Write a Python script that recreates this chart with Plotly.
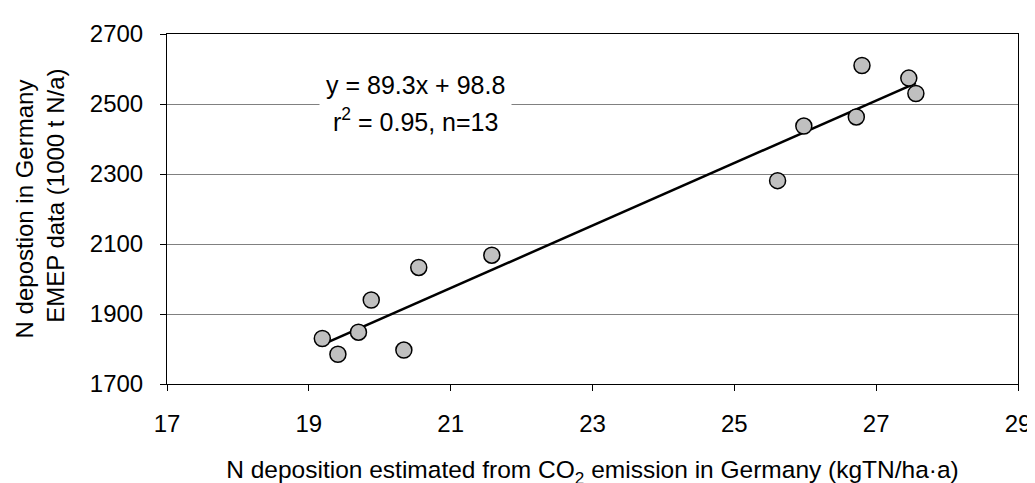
import plotly.graph_objects as go

# Data
x_vals = [19.19, 19.41, 19.70, 19.88, 20.34, 20.55, 21.58, 25.61, 25.98, 26.72, 26.80, 27.46, 27.56]
y_vals = [1830, 1785, 1848, 1940, 1797, 2033, 2068, 2281, 2437, 2463, 2610, 2574, 2530]
slope = 89.3
intercept = 98.8
x_ticks = [17, 19, 21, 23, 25, 27, 29]
y_ticks = [1700, 1900, 2100, 2300, 2500, 2700]

FONT = "Liberation Sans, Arial, sans-serif"
FS = 24

x_line = [min(x_vals), max(x_vals)]
y_line = [slope * v + intercept for v in x_line]

fig = go.Figure()
fig.add_trace(go.Scatter(x=x_line, y=y_line, mode="lines",
                         line=dict(color="black", width=2.5), showlegend=False,
                         hoverinfo="skip"))
fig.add_trace(go.Scatter(x=x_vals, y=y_vals, mode="markers",
                         marker=dict(size=16, color="#C0C0C0",
                                     line=dict(color="black", width=1.5)),
                         showlegend=False))

fig.add_annotation(x=20.5, y=2554, xref="x", yref="y",
                   text="y = 89.3x + 98.8",
                   showarrow=False, bgcolor="white", borderpad=6,
                   font=dict(family=FONT, size=25, color="black"))
fig.add_annotation(x=20.5, y=2453, xref="x", yref="y",
                   text="r<sup>2</sup> = 0.95, n=13",
                   showarrow=False, borderpad=2,
                   font=dict(family=FONT, size=25, color="black"))

pad = "\u00a0" * 4  # lifts the vertical title slightly above the plot centre, as in the reference

fig.update_layout(
    width=1035, height=483,
    margin=dict(l=158.5, r=16, t=16.5, b=103),
    paper_bgcolor="white", plot_bgcolor="white",
    font=dict(family=FONT, size=FS, color="black"),
    xaxis=dict(range=[17, 29], tickvals=x_ticks, ticks="outside", ticklen=6,
               tickcolor="black", showline=True, linecolor="black", linewidth=1,
               mirror=True, showgrid=False, zeroline=False,
               ticklabelstandoff=12,
               title=dict(text="N deposition estimated from CO<sub>2</sub> emission in Germany (kgTN/ha·a)",
                          font=dict(size=24.5), standoff=25)),
    yaxis=dict(range=[1700, 2700], tickvals=y_ticks, ticks="outside", ticklen=6,
               tickcolor="black", showline=True, linecolor="black", linewidth=1,
               mirror=True, showgrid=True, gridcolor="#808080", gridwidth=1,
               zeroline=False, ticklabelstandoff=12,
               title=dict(text=pad + "N depostion in Germany<br>" + pad + "EMEP data (1000 t N/a)",
                          font=dict(size=FS), standoff=18)),
)

fig.write_html("out.html")
